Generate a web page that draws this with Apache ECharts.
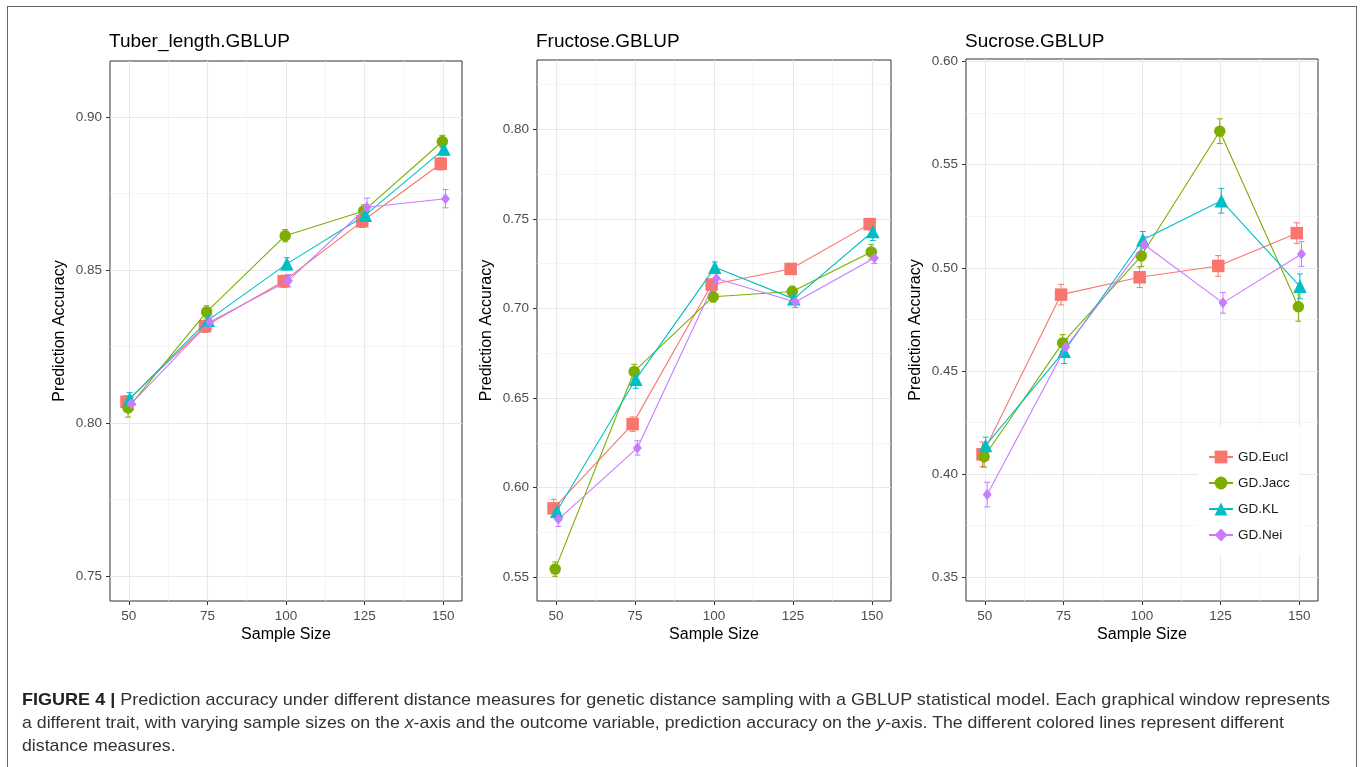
<!DOCTYPE html>
<html><head><meta charset="utf-8">
<script src="https://cdn.jsdelivr.net/npm/echarts@6/dist/echarts.min.js"></script>
<style>
html,body{margin:0;padding:0;width:1360px;height:767px;overflow:hidden;background:#fff;}
#frame{position:absolute;left:7px;top:6px;width:1350px;height:820px;border:1px solid #666;box-sizing:border-box;}
#chart{position:absolute;left:0;top:0;width:1360px;height:767px;}
#caption{position:absolute;left:22px;top:688px;font-family:'Liberation Sans',Arial,sans-serif;font-size:17px;color:#333;line-height:23px;}
#caption .line{white-space:nowrap;display:block;transform-origin:0 50%;width:max-content;}
#caption b{color:#222;}
</style></head>
<body>
<div id="frame"></div>
<div id="chart"></div>
<div id="caption">
<span class="line" data-w="1308"><b>FIGURE 4 |</b> Prediction accuracy under different distance measures for genetic distance sampling with a GBLUP statistical model. Each graphical window represents</span>
<span class="line" data-w="1262">a different trait, with varying sample sizes on the <i>x</i>-axis and the outcome variable, prediction accuracy on the <i>y</i>-axis. The different colored lines represent different</span>
<span class="line" data-w="0">distance measures.</span>
</div>
<script>
// ---------- data ----------
const sampleSizes = [50, 75, 100, 125, 150];
const seriesNames = ['GD.Eucl', 'GD.Jacc', 'GD.KL', 'GD.Nei'];
const panelTitles = ['Tuber_length.GBLUP', 'Fructose.GBLUP', 'Sucrose.GBLUP'];
const xTicks = [50, 75, 100, 125, 150];
const xMinorTicks = [62.5, 87.5, 112.5, 137.5];
const yTicksTuber = [0.75, 0.80, 0.85, 0.90];
const yMinorTuber = [0.775, 0.825, 0.875];
const yTicksFructose = [0.55, 0.60, 0.65, 0.70, 0.75, 0.80];
const yMinorFructose = [0.575, 0.625, 0.675, 0.725, 0.775, 0.825];
const yTicksSucrose = [0.35, 0.40, 0.45, 0.50, 0.55, 0.60];
const yMinorSucrose = [0.375, 0.425, 0.475, 0.525, 0.575];

// Tuber_length.GBLUP
const tuberEucl = [0.8069, 0.8316, 0.8463, 0.8659, 0.8847];
const tuberJacc = [0.8049, 0.8363, 0.8612, 0.8693, 0.8920];
const tuberKL   = [0.8079, 0.8336, 0.8520, 0.8679, 0.8895];
const tuberNei  = [0.8063, 0.8330, 0.8465, 0.8705, 0.8733];
const tuberEuclErr = [0.002, 0.002, 0.002, 0.002, 0.002];
const tuberJaccErr = [0.003, 0.002, 0.002, 0.002, 0.002];
const tuberKLErr   = [0.002, 0.002, 0.002, 0.002, 0.002];
const tuberNeiErr  = [0.002, 0.002, 0.002, 0.003, 0.003];

// Fructose.GBLUP
const fructEucl = [0.5885, 0.6355, 0.7134, 0.7221, 0.7471];
const fructJacc = [0.5546, 0.6649, 0.7066, 0.7095, 0.7316];
const fructKL   = [0.5869, 0.6605, 0.7230, 0.7054, 0.7430];
const fructNei  = [0.5824, 0.6222, 0.7168, 0.7036, 0.7282];
const fructEuclErr = [0.005, 0.004, 0.003, 0.003, 0.003];
const fructJaccErr = [0.004, 0.004, 0.003, 0.003, 0.004];
const fructKLErr   = [0.004, 0.005, 0.003, 0.003, 0.005];
const fructNeiErr  = [0.004, 0.004, 0.003, 0.003, 0.003];

// Sucrose.GBLUP
const sucEucl = [0.4096, 0.4870, 0.4954, 0.5009, 0.5168];
const sucJacc = [0.4084, 0.4636, 0.5057, 0.5662, 0.4811];
const sucKL   = [0.4139, 0.4596, 0.5136, 0.5325, 0.4910];
const sucNei  = [0.3901, 0.4616, 0.5112, 0.4830, 0.5067];
const sucEuclErr = [0.006, 0.005, 0.005, 0.005, 0.005];
const sucJaccErr = [0.005, 0.004, 0.005, 0.006, 0.007];
const sucKLErr   = [0.004, 0.006, 0.004, 0.006, 0.006];
const sucNeiErr  = [0.006, 0.004, 0.004, 0.005, 0.006];

// ---------- styling / layout ----------
const colors = ['#F8766D', '#7CAE00', '#00BFC4', '#C77CFF'];
const symbols = ['rect', 'circle', 'triangle', 'diamond'];
const symbolSizes = [12.5, 11.5, 13.5, [9, 11]];
const dodge = [-0.75, -0.25, 0.25, 0.75];
const FONT = "'Liberation Sans', Arial, sans-serif";

const panels = [
  { title: panelTitles[0], vals: [tuberEucl, tuberJacc, tuberKL, tuberNei], errs: [tuberEuclErr, tuberJaccErr, tuberKLErr, tuberNeiErr],
    yTicks: yTicksTuber, yMinor: yMinorTuber, yMin: 0.7418, yMax: 0.9183, grid: { left: 110, top: 61, width: 352, height: 540 } },
  { title: panelTitles[1], vals: [fructEucl, fructJacc, fructKL, fructNei], errs: [fructEuclErr, fructJaccErr, fructKLErr, fructNeiErr],
    yTicks: yTicksFructose, yMinor: yMinorFructose, yMin: 0.5368, yMax: 0.8387, grid: { left: 537, top: 60, width: 354, height: 541 } },
  { title: panelTitles[2], vals: [sucEucl, sucJacc, sucKL, sucNei], errs: [sucEuclErr, sucJaccErr, sucKLErr, sucNeiErr],
    yTicks: yTicksSucrose, yMinor: yMinorSucrose, yMin: 0.3385, yMax: 0.6012, grid: { left: 966, top: 59, width: 352, height: 542 } }
];

const option = { animation: false, backgroundColor: 'transparent', title: [], grid: [], xAxis: [], yAxis: [], series: [] };

panels.forEach((p, pi) => {
  option.title.push({ text: p.title, left: p.grid.left - 1, top: 32,
    textStyle: { fontFamily: FONT, fontSize: 19, fontWeight: 'normal', color: '#000' }, padding: 0 });
  option.grid.push(Object.assign({ show: true, borderColor: '#333', borderWidth: 1, backgroundColor: 'transparent', outerBoundsMode: 'none', containLabel: false }, p.grid));
  // major x axis
  option.xAxis.push({ type: 'value', gridIndex: pi, min: 44, max: 156,
    axisLine: { show: false },
    axisTick: { show: true, length: 4, lineStyle: { color: '#333', width: 1 }, customValues: xTicks },
    axisLabel: { show: true, customValues: xTicks, margin: 8, color: '#4D4D4D', fontSize: 13.5, fontFamily: FONT, showMinLabel: true, showMaxLabel: true },
    splitLine: { show: true, lineStyle: { color: '#E8E8E8', width: 1.1 } },
    name: 'Sample Size', nameLocation: 'middle', nameGap: 26, nameMoveOverlap: false,
    nameTextStyle: { fontFamily: FONT, fontSize: 16, color: '#000' } });
  // minor x axis (grid only)
  option.xAxis.push({ type: 'value', gridIndex: pi, min: 44, max: 156, position: 'bottom',
    axisLine: { show: false }, axisLabel: { show: false },
    axisTick: { show: false, customValues: xMinorTicks },
    splitLine: { show: true, lineStyle: { color: '#F1F1F1', width: 0.7 } } });
  // major y axis
  option.yAxis.push({ type: 'value', gridIndex: pi, min: p.yMin, max: p.yMax,
    axisLine: { show: false },
    axisTick: { show: true, length: 4, lineStyle: { color: '#333', width: 1 }, customValues: p.yTicks },
    axisLabel: { show: true, customValues: p.yTicks, margin: 8, color: '#4D4D4D', fontSize: 13.5, fontFamily: FONT,
      formatter: v => Number(v).toFixed(2), showMinLabel: true, showMaxLabel: true },
    splitLine: { show: true, lineStyle: { color: '#E8E8E8', width: 1.1 } },
    name: 'Prediction Accuracy', nameLocation: 'middle', nameGap: 42, nameMoveOverlap: false,
    nameTextStyle: { fontFamily: FONT, fontSize: 16, color: '#000' } });
  // minor y axis
  option.yAxis.push({ type: 'value', gridIndex: pi, min: p.yMin, max: p.yMax, position: 'left',
    axisLine: { show: false }, axisLabel: { show: false },
    axisTick: { show: false, customValues: p.yMinor },
    splitLine: { show: true, lineStyle: { color: '#F1F1F1', width: 0.7 } } });

  seriesNames.forEach((nm, si) => {
    const pts = sampleSizes.map((x, i) => [x + dodge[si], p.vals[si][i]]);
    const errData = sampleSizes.map((x, i) => [x + dodge[si], p.vals[si][i] - p.errs[si][i], p.vals[si][i] + p.errs[si][i]]);
    option.series.push({ type: 'custom', name: nm + ' error', xAxisIndex: 2 * pi, yAxisIndex: 2 * pi,
      data: errData, encode: { x: 0, y: [1, 2] }, z: 3, silent: true,
      renderItem: (params, api) => {
        const lo = api.coord([api.value(0), api.value(1)]);
        const hi = api.coord([api.value(0), api.value(2)]);
        const w = 3;
        const st = { stroke: colors[si], lineWidth: 1 };
        return { type: 'group', children: [
          { type: 'line', shape: { x1: lo[0], y1: lo[1], x2: hi[0], y2: hi[1] }, style: st },
          { type: 'line', shape: { x1: lo[0] - w, y1: lo[1], x2: lo[0] + w, y2: lo[1] }, style: st },
          { type: 'line', shape: { x1: hi[0] - w, y1: hi[1], x2: hi[0] + w, y2: hi[1] }, style: st }
        ] };
      } });
    option.series.push({ type: 'line', name: nm, xAxisIndex: 2 * pi, yAxisIndex: 2 * pi, data: pts,
      symbol: symbols[si], symbolSize: symbolSizes[si], showSymbol: true, z: 4 + si,
      itemStyle: { color: colors[si], borderWidth: 0 }, lineStyle: { color: colors[si], width: 1.1 },
      emphasis: { disabled: true } });
  });
});

option.legend = { data: seriesNames, orient: 'vertical', left: 1198, top: 426,
  backgroundColor: '#fff', padding: [24, 10, 13, 10], itemGap: 12, itemWidth: 24, itemHeight: 16,
  textStyle: { fontFamily: FONT, fontSize: 13.5, color: '#1A1A1A' }, selectedMode: false };

const chart = echarts.init(document.getElementById('chart'), null, { renderer: 'canvas' });
chart.setOption(option);

// fit caption lines to the reference widths
const lines = document.querySelectorAll('#caption .line');
let lastScale = 1;
lines.forEach(el => {
  const target = +el.dataset.w;
  const w = el.getBoundingClientRect().width;
  const s = target > 0 ? target / w : lastScale;
  lastScale = s;
  el.style.transform = 'scaleX(' + s + ')';
});
</script>
</body></html>
